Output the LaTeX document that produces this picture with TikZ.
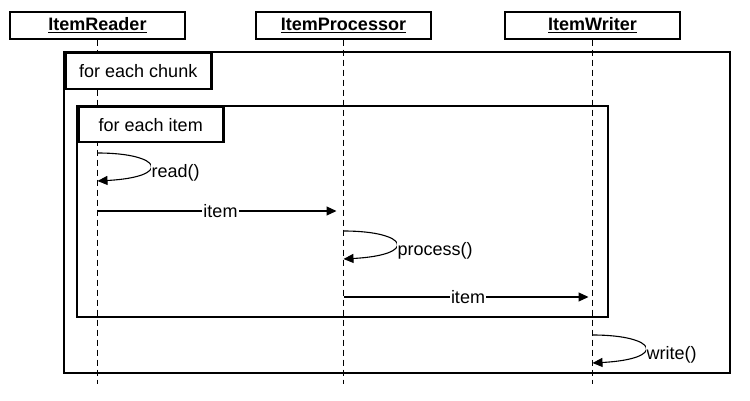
\documentclass[tikz,border=0pt]{standalone}
\usepackage{fontspec}
\setmainfont{Liberation Sans}
\usetikzlibrary{arrows.meta, positioning}
\tikzset{
  >={Triangle[length=10pt, width=9pt]},
  every picture/.style={line join=miter, font=\fontsize{18}{21}\selectfont},
  lifebox/.style={draw, line width=1.3pt, minimum width=175pt, minimum height=27pt, inner sep=0pt, font=\fontsize{18}{21}\selectfont\bfseries},
  lifeline/.style={dash pattern=on 6pt off 4pt, line width=0.9pt},
  loopframe/.style={line width=2.5pt},
  framelabel/.style={draw, fill=white, line width=2.5pt, inner sep=0pt, anchor=north west},
  msg/.style={->, line width=1.1pt},
  msglabel/.style={fill=white, inner sep=1pt},
}

\begin{document}
\begin{tikzpicture}[x=1pt, y=-1pt]
  \useasboundingbox (0,0) rectangle (750,401);
  % participants and their lifelines
  \node[lifebox] (reader) at (97.5,25.5) {\underline{ItemReader}};
  \node[lifebox] (processor) at (343.5,25.5) {\underline{ItemProcessor}};
  \node[lifebox] (writer) at (592.5,25.5) {\underline{ItemWriter}};
  \foreach \p in {reader, processor, writer}
    \draw[lifeline] (\p.south) -- ++(0,344) coordinate (\p-end);
  % loop frames, label boxes drawn over the lifelines
  \draw[loopframe] (64,52) rectangle (730,373);
  \node[framelabel, minimum width=146pt, minimum height=36pt] (chunk) at (64,52) {for each chunk};
  \draw[loopframe] (77,106) rectangle (608,317);
  \node[framelabel, minimum width=145pt, minimum height=35pt] (each) at (77,106) {for each item};
  % self calls
  \foreach \p/\y/\t in {reader/153/{read()}, processor/231/{process()}, writer/335/{write()}} {
    \coordinate (\p-call) at (\p |- 0,\y);
    \coordinate (\p-back) at (\p |- 0,\y+28);
    \draw[msg] (\p-call) .. controls +(65,0) and +(75,-4) .. (\p-back);
    \node[msglabel, anchor=west] (\p-lbl) at ([shift={(53,20)}]\p-call) {\t};
  }
  % item handed on
  \coordinate (r-out) at (reader |- 0,211);
  \coordinate (p-in) at (processor |- 0,211);
  \coordinate (p-out) at (processor |- 0,297);
  \coordinate (w-in) at (writer |- 0,297);
  \draw[msg, shorten >=7pt] (r-out) -- node[msglabel] (item1) {item} (p-in);
  \draw[msg, shorten >=4pt] (p-out) -- node[msglabel] (item2) {item} (w-in);
\end{tikzpicture}
\end{document}
